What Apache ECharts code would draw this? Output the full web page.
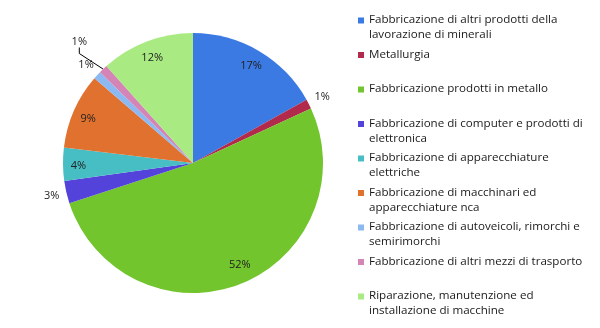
<!DOCTYPE html>
<html>
<head>
<meta charset="utf-8">
<script src="https://cdn.jsdelivr.net/npm/echarts@6/dist/echarts.min.js"></script>
<style>
html,body{margin:0;padding:0;background:#fff;}
#c{width:600px;height:328px;}
</style>
</head>
<body>
<div id="c"></div>
<script>
var categories = [
  "Fabbricazione di altri prodotti della\nlavorazione di minerali",
  "Metallurgia",
  "Fabbricazione prodotti in metallo",
  "Fabbricazione di computer e prodotti di\nelettronica",
  "Fabbricazione di apparecchiature\nelettriche",
  "Fabbricazione di macchinari ed\napparecchiature nca",
  "Fabbricazione di autoveicoli, rimorchi e\nsemirimorchi",
  "Fabbricazione di altri mezzi di trasporto",
  "Riparazione, manutenzione ed\ninstallazione di macchine"
];
var values = [16.9, 1.2, 51.9, 2.8, 4.1, 9.4, 1.0, 1.1, 11.6];
var colors = ["#3B79E3", "#B12A4C", "#73C52E", "#5443DB", "#47BEC4", "#E0712F", "#8DB9F2", "#D484B5", "#A9EB82"];
var insideLabelIdx = [0, 2, 4, 5, 8];
var outsideLabelIdx = [1, 3, 6];
var leaderLabelIdx = [7];

var FONT = "'Open Sans', 'Noto Sans', sans-serif";
var fmt = function (p) { return Math.round(p.percent) + '%'; };

function mainData() {
  return categories.map(function (c, i) {
    return { name: c, value: values[i], itemStyle: { color: colors[i] } };
  });
}
function labelData(idxList) {
  return categories.map(function (c, i) {
    return {
      name: c, value: values[i],
      itemStyle: { color: 'rgba(0,0,0,0)' },
      label: { show: idxList.indexOf(i) >= 0 }
    };
  });
}

var chart = echarts.init(document.getElementById('c'), null, { renderer: 'canvas' });

var commonPie = {
  type: 'pie',
  center: [193, 163],
  startAngle: 90,
  clockwise: true,
  avoidLabelOverlap: false,
  animation: false,
  silent: true
};

chart.setOption({
  animation: false,
  legend: {
    orient: 'vertical',
    left: 358,
    top: 12.5,
    padding: 0,
    height: 315,
    itemWidth: 6,
    itemHeight: 30,
    itemGap: 4.5,
    icon: 'path://M0,0 M0,5h6v6h-6z M6,30',
    data: categories,
    selectedMode: false,
    formatter: function (name) { return name.indexOf('\n') < 0 ? name + '\n ' : name; },
    textStyle: { fontFamily: FONT, fontSize: 11.6, color: '#1a1a1a', lineHeight: 15 }
  },
  series: [
    Object.assign({}, commonPie, {
      name: 'main',
      radius: [0, 130],
      label: {
        show: false, position: 'outside', formatter: fmt,
        fontFamily: FONT, fontSize: 11, color: '#222'
      },
      labelLine: { show: true, length: 10, length2: 6, lineStyle: { color: '#000', width: 1 } },
      labelLayout: function (p) {
        if (leaderLabelIdx.indexOf(p.dataIndex) >= 0) {
          return { x: 87, y: 42, align: 'right', verticalAlign: 'middle' };
        }
        return {};
      },
      itemStyle: { borderWidth: 0 },
      data: mainData().map(function (d, i) {
        if (leaderLabelIdx.indexOf(i) >= 0) {
          d.label = { show: true };
          d.labelLine = { show: true };
        } else {
          d.labelLine = { show: false };
        }
        return d;
      })
    }),
    Object.assign({}, commonPie, {
      name: 'inside',
      radius: [93, 130],
      label: { position: 'inside', formatter: fmt, fontFamily: FONT, fontSize: 11, color: '#222' },
      labelLine: { show: false },
      labelLayout: function (p) {
        if (p.dataIndex === 2) { return { dx: 5, dy: -5 }; }
        return { dy: 2 };
      },
      data: labelData(insideLabelIdx)
    }),
    Object.assign({}, commonPie, {
      name: 'outside',
      radius: [132, 152],
      label: { position: 'inside', formatter: fmt, fontFamily: FONT, fontSize: 11, color: '#222' },
      labelLine: { show: false },
      data: labelData(outsideLabelIdx)
    })
  ]
});
</script>
</body>
</html>
